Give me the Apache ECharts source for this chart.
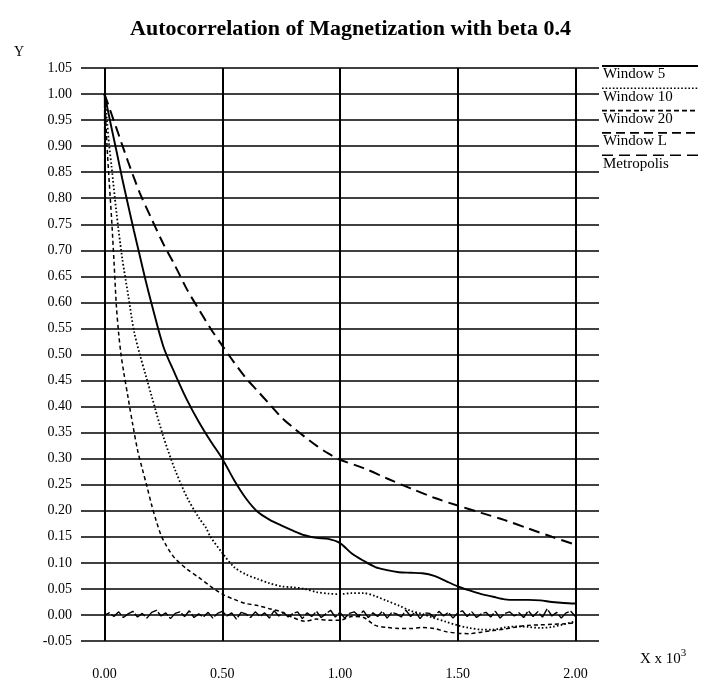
<!DOCTYPE html>
<html><head><meta charset="utf-8">
<script src="https://cdn.jsdelivr.net/npm/echarts@6/dist/echarts.min.js"></script>
<style>html,body{margin:0;padding:0;background:#fff}#c{width:701px;height:686px}</style>
</head><body><div id="c"></div>
<script>
const titleText = 'Autocorrelation of Magnetization with beta 0.4';
const seriesNames = ['Window 5', 'Window 10', 'Window 20', 'Window L', 'Metropolis'];
const xTickValues = [0, 0.5, 1, 1.5, 2];

const w5X = [0,0.025,0.05,0.075,0.1,0.125,0.15,0.175,0.2,0.25,0.3,0.35,0.4,0.45,0.5,0.55,0.6,0.65,0.7,0.75,0.8,0.85,0.9,0.95,1.0,1.05,1.1,1.15,1.2,1.25,1.3,1.35,1.4,1.45,1.5,1.55,1.6,1.65,1.7,1.75,1.8,1.85,1.9,1.95,2.0];
const w5Y = [1.0,0.945,0.892,0.838,0.787,0.737,0.689,0.641,0.597,0.515,0.462,0.413,0.371,0.334,0.30,0.259,0.224,0.198,0.183,0.172,0.162,0.153,0.148,0.146,0.138,0.118,0.104,0.092,0.086,0.082,0.081,0.08,0.075,0.065,0.055,0.047,0.04,0.035,0.03,0.029,0.029,0.028,0.025,0.023,0.022];

const w10X = [0,0.01,0.02,0.03,0.05,0.075,0.1,0.125,0.15,0.175,0.2,0.25,0.3,0.35,0.4,0.43,0.45,0.5,0.55,0.6,0.65,0.7,0.75,0.8,0.85,0.9,0.95,1.0,1.05,1.1,1.15,1.2,1.25,1.3,1.35,1.4,1.45,1.5,1.55,1.6,1.65,1.7,1.75,1.8,1.85,1.9,1.95,2.0];
const w10Y = [1.0,0.95,0.9,0.86,0.775,0.685,0.615,0.545,0.50,0.46,0.42,0.342,0.278,0.226,0.187,0.168,0.15,0.119,0.092,0.078,0.069,0.061,0.055,0.053,0.05,0.044,0.041,0.04,0.042,0.042,0.036,0.027,0.018,0.008,0.002,-0.006,-0.013,-0.02,-0.025,-0.028,-0.028,-0.024,-0.022,-0.023,-0.025,-0.023,-0.018,-0.012];

const w20X = [0,0.01,0.02,0.03,0.04,0.05,0.06,0.07,0.08,0.1,0.12,0.14,0.16,0.18,0.2,0.22,0.24,0.26,0.28,0.3,0.35,0.4,0.45,0.5,0.55,0.6,0.65,0.7,0.75,0.8,0.85,0.9,0.95,1.0,1.05,1.1,1.15,1.2,1.25,1.3,1.35,1.4,1.45,1.5,1.55,1.6,1.65,1.7,1.75,1.8,1.85,1.9,1.95,2.0];
const w20Y = [1.0,0.905,0.83,0.76,0.68,0.595,0.54,0.50,0.47,0.417,0.365,0.317,0.281,0.247,0.211,0.18,0.153,0.135,0.12,0.108,0.088,0.072,0.055,0.04,0.03,0.022,0.018,0.012,0.006,-0.005,-0.012,-0.008,-0.01,-0.01,-0.003,-0.005,-0.02,-0.024,-0.026,-0.026,-0.024,-0.026,-0.032,-0.035,-0.036,-0.033,-0.03,-0.027,-0.023,-0.02,-0.019,-0.018,-0.017,-0.015];

const wLX = [0,0.003,
0.02,0.04,0.06,0.08,0.10,0.12,0.14,0.16,0.18,0.20,
0.22,0.24,0.26,0.28,0.30,0.32,0.34,0.36,0.38,0.40,
0.42,0.44,0.46,0.48,0.50,0.52,0.54,0.56,0.58,0.60,
0.62,0.64,0.66,0.68,0.70,0.72,0.74,0.76,0.78,0.80,
0.82,0.84,0.86,0.88,0.90,0.92,0.94,0.96,0.98,1.00,
1.02,1.04,1.06,1.08,1.10,1.12,1.14,1.16,1.18,1.20,
1.22,1.24,1.26,1.28,1.30,1.32,1.34,1.36,1.38,1.40,
1.42,1.44,1.46,1.48,1.50,1.52,1.54,1.56,1.58,1.60,
1.62,1.64,1.66,1.68,1.70,1.72,1.74,1.76,1.78,1.80,
1.82,1.84,1.86,1.88,1.90,1.92,1.94,1.96,1.98,2.00];
const wLY = [1.0,0.0,
0.004,-0.003,0.006,-0.005,0.002,0.007,-0.004,0.003,-0.006,0.005,
0.009,-0.002,0.004,-0.007,0.003,0.006,-0.003,0.008,-0.005,0.002,
-0.004,0.005,-0.006,0.003,0.007,-0.002,0.004,-0.008,0.005,0.002,
-0.005,0.006,-0.003,0.004,-0.006,0.008,-0.002,0.005,-0.004,0.003,
0.006,-0.007,0.004,-0.003,0.007,-0.005,0.002,0.009,-0.004,0.005,
-0.006,0.003,0.006,-0.002,0.008,-0.005,0.004,-0.003,0.007,-0.006,
0.005,0.002,-0.004,0.009,-0.003,0.006,-0.007,0.004,0.003,-0.005,
0.007,-0.002,0.005,-0.006,0.004,0.008,-0.003,0.006,-0.005,0.002,
0.005,-0.004,0.007,-0.006,0.003,0.006,-0.002,0.004,-0.005,0.008,
-0.003,0.006,-0.004,0.012,-0.002,0.005,-0.006,0.004,0.007,-0.003];

const metX = [0,0.05,0.1,0.15,0.2,0.25,0.3,0.35,0.4,0.45,0.5,0.55,0.6,0.65,0.7,0.75,0.8,0.85,0.9,0.95,1.0,1.1,1.2,1.3,1.4,1.5,1.6,1.7,1.8,1.9,2.0];
const metY = [1.0,0.935,0.87,0.81,0.76,0.712,0.67,0.625,0.587,0.55,0.517,0.485,0.455,0.43,0.405,0.38,0.36,0.342,0.325,0.31,0.298,0.282,0.262,0.243,0.225,0.21,0.196,0.182,0.166,0.15,0.135];

const FONT = '"Liberation Serif", "Times New Roman", serif';
const pair = (xs, ys) => xs.map((x, i) => [x, ys[i]]);

const styles = [
  { width: 1.9, dash: 'solid', legendDash: null, smooth: 0.3 },
  { width: 1.8, dash: [1.6, 2.2], legendDash: [1.6, 2], smooth: 0.3 },
  { width: 1.5, dash: [4, 3], legendDash: [5, 3], smooth: 0.3 },
  { width: 1.4, dash: [14, 2], legendDash: [9, 5], smooth: false },
  { width: 2, dash: [11, 6], legendDash: [11, 6], smooth: 0.3 }
];
const dataSets = [pair(w5X, w5Y), pair(w10X, w10Y), pair(w20X, w20Y), pair(wLX, wLY), pair(metX, metY)];

const chart = echarts.init(document.getElementById('c'), null, { renderer: 'canvas' });

const legendGraphics = [];
seriesNames.forEach((name, i) => {
  const y = 66 + i * 22.3;
  legendGraphics.push({
    type: 'line', shape: { x1: 602, y1: y, x2: 698, y2: y },
    style: { stroke: '#000', lineWidth: i === 0 ? 2 : 1.6, lineDash: styles[i].legendDash }
  });
  legendGraphics.push({
    type: 'text', left: 603, top: y + 1,
    style: { text: name, font: '15px ' + FONT, fill: '#000' }
  });
});

chart.setOption({
  animation: false,
  backgroundColor: '#fff',
  title: {
    text: titleText, left: 'center', top: 13,
    textStyle: { fontFamily: FONT, fontWeight: 'bold', fontSize: 22, color: '#000' }
  },
  grid: { left: 81, right: 102, top: 68, bottom: 45, containLabel: false },
  xAxis: {
    type: 'value', min: -0.1, max: 2.1,
    axisLine: { show: false },
    axisTick: { show: true, customValues: xTickValues, length: 18, lineStyle: { color: '#000', width: 2 } },
    axisLabel: { customValues: xTickValues, margin: 26, formatter: v => v.toFixed(2), fontFamily: FONT, fontSize: 14, color: '#000' },
    splitLine: { show: true, lineStyle: { color: '#000', width: 2 } }
  },
  yAxis: {
    type: 'value', min: -0.05, max: 1.05, interval: 0.05,
    axisLine: { show: false }, axisTick: { show: false },
    axisLabel: { margin: 9, formatter: v => v.toFixed(2), fontFamily: FONT, fontSize: 14, color: '#000' },
    splitLine: { show: true, lineStyle: { color: '#000', width: 1.6 } }
  },
  graphic: [
    { type: 'text', left: 14, top: 45, style: { text: 'Y', font: '14px ' + FONT, fill: '#000' } },
    { type: 'text', left: 640, top: 648, style: {
        text: '{a|X x 10}{s|3}', font: '15px ' + FONT, fill: '#000',
        rich: { a: { fontFamily: FONT, fontSize: 15, fill: '#000', verticalAlign: 'bottom' },
                s: { fontFamily: FONT, fontSize: 11, fill: '#000', verticalAlign: 'top', padding: [0, 0, 8, 0] } } } }
  ].concat(legendGraphics),
  series: seriesNames.map((name, i) => ({
    name, type: 'line', data: dataSets[i], showSymbol: false, symbol: 'none',
    smooth: styles[i].smooth,
    lineStyle: { color: '#000', width: styles[i].width, type: styles[i].dash },
    z: 3
  }))
});
</script>
</body></html>
